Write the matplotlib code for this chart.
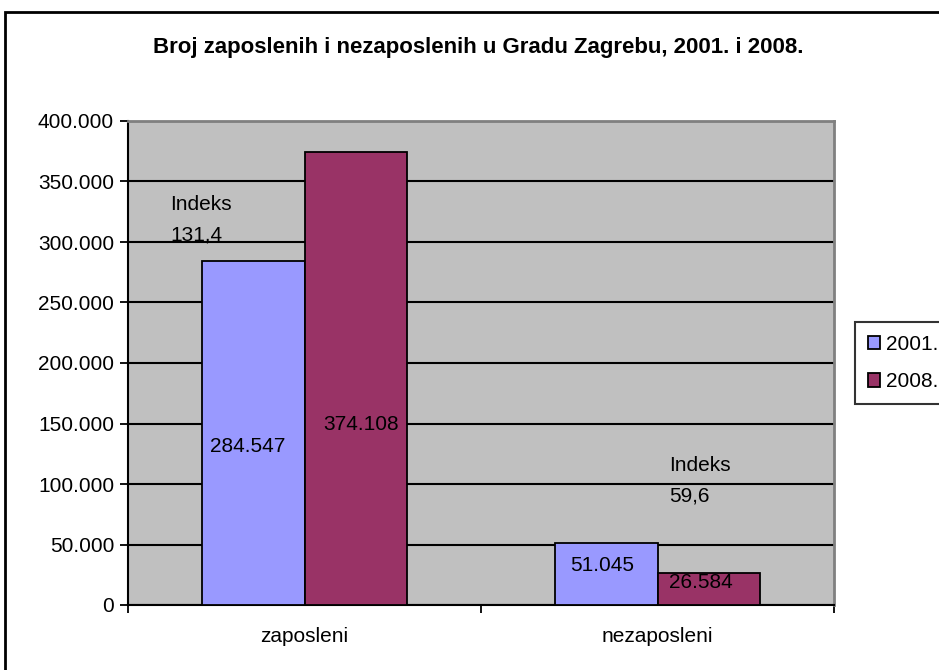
import matplotlib.pyplot as plt
import matplotlib.patches as mpatches
import numpy as np

# data
categories = ['zaposleni', 'nezaposleni']
series_names = ['2001.', '2008.']
values_2001 = [284547, 51045]
values_2008 = [374108, 26584]
labels_2001 = ['284.547', '51.045']
labels_2008 = ['374.108', '26.584']
index_labels = ['131,4', '59,6']
yticks = [0, 50000, 100000, 150000, 200000, 250000, 300000, 350000, 400000]
ytick_labels = ['0', '50.000', '100.000', '150.000', '200.000', '250.000',
                '300.000', '350.000', '400.000']

c2001 = '#9999FF'
c2008 = '#993366'

plt.rcParams['font.family'] = ['Liberation Sans', 'DejaVu Sans']

fig = plt.figure(figsize=(9.39, 6.7), dpi=100)
ax = fig.add_axes([128/939, 1-605/670, 706/939, 484/670])
ax.set_facecolor('#C0C0C0')

x = np.arange(len(categories))
w = 0.289
ax.bar(x - w/2, values_2001, w, color=c2001, edgecolor='black', lw=1.3,
       label=series_names[0], zorder=3)
ax.bar(x + w/2, values_2008, w, color=c2008, edgecolor='black', lw=1.3,
       label=series_names[1], zorder=3)

fs = 15

ax.set_xlim(-0.5, 1.5)
ax.set_ylim(0, 400000)
ax.set_yticks(yticks)
ax.set_yticklabels(ytick_labels, fontsize=fs)
ax.yaxis.grid(True, color='black', lw=1.5, zorder=1)
ax.set_axisbelow(True)

# category ticks at boundaries, labels in between
ax.set_xticks([-0.5, 0.5, 1.5])
ax.set_xticklabels([])
ax.set_xticks(x, minor=True)
ax.set_xticklabels(categories, minor=True, fontsize=fs)
ax.tick_params(axis='x', which='minor', length=0, pad=16)
ax.tick_params(axis='x', which='major', length=6, width=1.3, direction='out')
ax.tick_params(axis='y', length=6, width=1.3, direction='out', pad=4)

for s in ['top', 'right']:
    ax.spines[s].set_color('#808080')
    ax.spines[s].set_linewidth(2)
for s in ['left', 'bottom']:
    ax.spines[s].set_color('black')
    ax.spines[s].set_linewidth(1.5)

# data labels (manually placed as in the original)
ax.text(-0.268, 130600, labels_2001[0], fontsize=fs, va='center', zorder=4)
ax.text(0.052, 148800, labels_2008[0], fontsize=fs, va='center', zorder=4)
ax.text(0.752, 33000, labels_2001[1], fontsize=fs, va='center', zorder=4)
ax.text(1.032, 19000, labels_2008[1], fontsize=fs, va='center', zorder=4)
ax.text(-0.381, 330600, 'Indeks', fontsize=fs, va='center', zorder=4)
ax.text(-0.381, 305800, index_labels[0], fontsize=fs, va='center', zorder=4)
ax.text(1.032, 114900, 'Indeks', fontsize=fs, va='center', zorder=4)
ax.text(1.032, 90100, index_labels[1], fontsize=fs, va='center', zorder=4)

fig.suptitle('Broj zaposlenih i nezaposlenih u Gradu Zagrebu, 2001. i 2008.',
             x=478/939, y=1-48/670, va='center', fontsize=16,
             fontweight='bold')

leg = fig.legend(loc='upper left', bbox_to_anchor=(855/939, 1-322/670),
                 fontsize=fs, frameon=True, fancybox=False,
                 handlelength=0.6, handleheight=0.6, handletextpad=0.3,
                 borderpad=0.6, labelspacing=0.9, borderaxespad=0)
leg.get_frame().set_edgecolor('black')
leg.get_frame().set_linewidth(1.5)

# outer chart border (cut off at right and bottom)
border = mpatches.Rectangle((5/939, -0.1), 1.2, 1.1 - 12/670,
                            transform=fig.transFigure, fill=False,
                            edgecolor='black', lw=2, clip_on=False)
fig.patches.append(border)

fig.savefig('out.png', dpi=100)
